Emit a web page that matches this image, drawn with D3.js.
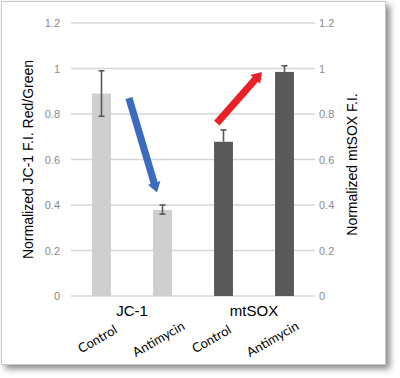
<!DOCTYPE html>
<html>
<head>
<meta charset="utf-8">
<script src="https://cdn.jsdelivr.net/npm/d3@7/dist/d3.min.js"></script>
<style>
  html, body { margin: 0; padding: 0; background: #fff; }
  svg { display: block; }
</style>
</head>
<body>
<div id="chart"></div>
<script>
// values
const groups = ['JC-1', 'mtSOX'];
const conditions = ['Control', 'Antimycin', 'Control', 'Antimycin'];
const barGroup = [0, 0, 1, 1];
const means = [0.89, 0.378, 0.678, 0.985];
const errLow = [0.79, 0.36, 0.678, 0.985];
const errHigh = [0.99, 0.40, 0.73, 1.012];
const leftTicks = [0, 0.2, 0.4, 0.6, 0.8, 1, 1.2];
const rightTicks = [0, 0.2, 0.4, 0.6, 0.8, 1, 1.2];
const tickText = ['0', '0.2', '0.4', '0.6', '0.8', '1', '1.2'];

// annotation arrows: [position along categories, value]
const arrowFrom = [[0.45, 0.87], [1.89, 0.76]];
const arrowTo = [[0.91, 0.455], [2.63, 0.985]];
const arrowColors = ['#3b6cbf', '#ea2027'];

const width = 400, height = 378;
const margin = { top: 23, right: 85, bottom: 82, left: 71 };

const svg = d3.select('#chart')
  .append('svg')
  .attr('width', width)
  .attr('height', height);

const defs = svg.append('defs');
const shadow = defs.append('filter')
  .attr('id', 'shadow')
  .attr('x', '-5%').attr('y', '-5%')
  .attr('width', '115%').attr('height', '115%');
shadow.append('feDropShadow')
  .attr('dx', 4).attr('dy', 4)
  .attr('stdDeviation', 3)
  .attr('flood-color', '#000')
  .attr('flood-opacity', 0.45);

// framed panel
svg.append('rect')
  .attr('x', 1.5).attr('y', 1.5)
  .attr('width', 384).attr('height', 363)
  .attr('fill', '#fff')
  .attr('stroke', '#c9c9c9')
  .attr('stroke-width', 1)
  .attr('filter', 'url(#shadow)');

const x0 = margin.left, x1 = width - margin.right;
const y0 = height - margin.bottom, y1 = margin.top;

const x = d3.scaleBand()
  .domain(d3.range(conditions.length))
  .range([x0, x1])
  .paddingInner(0.69)
  .paddingOuter(0.345);
const xPos = d3.scaleLinear()
  .domain([-0.5, conditions.length - 0.5])
  .range([x0, x1]);
const y = d3.scaleLinear().domain([0, 1.2]).range([y0, y1]);
const yRight = d3.scaleLinear().domain([0, 1.2]).range([y0, y1]);

// gridlines
svg.append('g')
  .selectAll('line')
  .data(leftTicks)
  .enter()
  .append('line')
  .attr('x1', x0).attr('x2', x1)
  .attr('y1', (d) => y(d)).attr('y2', (d) => y(d))
  .attr('stroke', '#d6d6d6')
  .attr('stroke-width', 1.6);

// tick labels
const leftAxis = d3.axisLeft(y).tickValues(leftTicks)
  .tickSize(0).tickPadding(11)
  .tickFormat((d, i) => tickText[i]);
const la = svg.append('g')
  .attr('transform', 'translate(' + x0 + ',0)')
  .call(leftAxis);
la.select('.domain').remove();
la.selectAll('text')
  .attr('fill', '#8a8a8a')
  .style('font-family', 'Liberation Sans, Arial, sans-serif')
  .style('font-size', '11px');

const rightAxis = d3.axisRight(yRight).tickValues(rightTicks)
  .tickSize(0).tickPadding(4)
  .tickFormat((d, i) => tickText[i]);
const ra = svg.append('g')
  .attr('transform', 'translate(' + x1 + ',0)')
  .call(rightAxis);
ra.select('.domain').remove();
ra.selectAll('text')
  .attr('fill', '#8a8a8a')
  .style('font-family', 'Liberation Sans, Arial, sans-serif')
  .style('font-size', '11px');

// bars
svg.append('g')
  .selectAll('rect')
  .data(means)
  .enter()
  .append('rect')
  .attr('x', (d, i) => x(i))
  .attr('width', x.bandwidth())
  .attr('y', (d, i) => (barGroup[i] === 0 ? y(d) : yRight(d)))
  .attr('height', (d, i) => y0 - (barGroup[i] === 0 ? y(d) : yRight(d)))
  .attr('fill', (d, i) => (barGroup[i] === 0 ? '#cfcfcf' : '#595959'));

// error bars
const eb = svg.append('g')
  .selectAll('g')
  .data(means)
  .enter()
  .append('g')
  .attr('stroke', '#595959')
  .attr('stroke-width', 1.6);
const cx = (i) => x(i) + x.bandwidth() / 2;
const ys = (i, v) => (barGroup[i] === 0 ? y(v) : yRight(v));
eb.append('line')
  .attr('x1', (d, i) => cx(i)).attr('x2', (d, i) => cx(i))
  .attr('y1', (d, i) => ys(i, errLow[i]))
  .attr('y2', (d, i) => ys(i, errHigh[i]));
eb.append('line')
  .attr('x1', (d, i) => cx(i) - 3).attr('x2', (d, i) => cx(i) + 3)
  .attr('y1', (d, i) => ys(i, errHigh[i]))
  .attr('y2', (d, i) => ys(i, errHigh[i]));
eb.filter((d, i) => errLow[i] < means[i])
  .append('line')
  .attr('x1', (d, i) => cx(i) - 3).attr('x2', (d, i) => cx(i) + 3)
  .attr('y1', (d, i) => ys(i, errLow[i]))
  .attr('y2', (d, i) => ys(i, errLow[i]));

// arrows
function arrowPath(p, q) {
  const ax = xPos(p[0]), ay = y(p[1]);
  const bx = xPos(q[0]), by = y(q[1]);
  const len = Math.hypot(bx - ax, by - ay);
  const ux = (bx - ax) / len, uy = (by - ay) / len;
  const nx = -uy, ny = ux;
  const sw = 3.6, hw = 6.5, hl = 10;
  const hx = bx - ux * hl, hy = by - uy * hl;
  const pts = [
    [ax + nx * sw, ay + ny * sw],
    [hx + nx * sw, hy + ny * sw],
    [hx + nx * hw, hy + ny * hw],
    [bx, by],
    [hx - nx * hw, hy - ny * hw],
    [hx - nx * sw, hy - ny * sw],
    [ax - nx * sw, ay - ny * sw],
  ];
  return 'M' + pts.map((pt) => pt.join(',')).join('L') + 'Z';
}
svg.append('g')
  .selectAll('path')
  .data(arrowFrom)
  .enter()
  .append('path')
  .attr('d', (d, i) => arrowPath(d, arrowTo[i]))
  .attr('fill', (d, i) => arrowColors[i]);

// group labels
svg.append('g')
  .selectAll('text')
  .data(groups)
  .enter()
  .append('text')
  .attr('x', (d, gi) => xPos(gi * 2 + 0.5))
  .attr('y', y0 + 20)
  .attr('text-anchor', 'middle')
  .style('font-family', 'Liberation Sans, Arial, sans-serif')
  .style('font-size', '15px')
  .attr('fill', '#000')
  .text((d) => d);

// condition labels, rotated
const labelShift = [-4, -12];
svg.append('g')
  .selectAll('text')
  .data(conditions)
  .enter()
  .append('text')
  .attr('transform', (d, i) =>
    'translate(' + (cx(i) + labelShift[barGroup[i]]) + ',' + (y0 + 43) + ') rotate(-30)')
  .attr('text-anchor', 'middle')
  .attr('dy', '0.35em')
  .style('font-family', 'Lato, Open Sans, sans-serif')
  .style('font-size', '13px')
  .attr('fill', '#000')
  .text((d) => d);

// axis titles
svg.append('text')
  .attr('transform', 'translate(33,' + (y0 + y1) / 2 + ') rotate(-90)')
  .attr('x', 0)
  .attr('text-anchor', 'middle')
  .style('font-family', 'Liberation Sans, Arial, sans-serif')
  .style('font-size', '14px')
  .text('Normalized JC-1 F.I. Red/Green');

svg.append('text')
  .attr('transform', 'translate(357,' + (y0 + y1) / 2 + ') rotate(-90)')
  .attr('x', -5)
  .attr('text-anchor', 'middle')
  .style('font-family', 'Liberation Sans, Arial, sans-serif')
  .style('font-size', '14px')
  .text('Normalized mtSOX F.I.');
</script>
</body>
</html>
